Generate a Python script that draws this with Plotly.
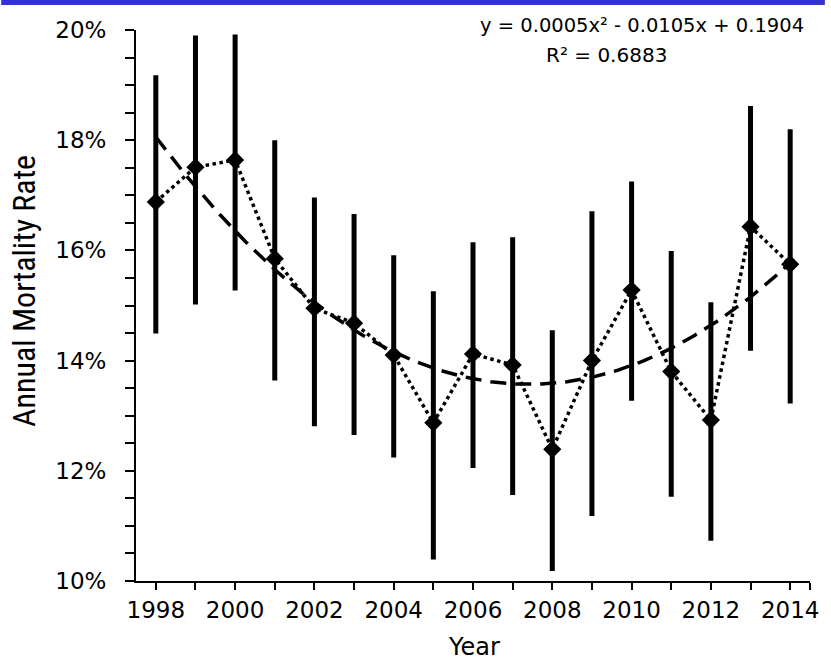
import numpy as np
import plotly.graph_objects as go

years = [1998, 1999, 2000, 2001, 2002, 2003, 2004, 2005, 2006, 2007, 2008,
         2009, 2010, 2011, 2012, 2013, 2014]
rate = [16.88, 17.51, 17.64, 15.85, 14.95, 14.68, 14.10, 12.87, 14.12, 13.92,
        12.39, 14.00, 15.28, 13.80, 12.92, 16.43, 15.75]
upper = [19.18, 19.90, 19.92, 18.00, 16.96, 16.66, 15.91, 15.26, 16.15, 16.24,
         14.55, 16.71, 17.25, 15.99, 15.06, 18.62, 18.20]
lower = [14.49, 15.02, 15.27, 13.64, 12.81, 12.65, 12.24, 10.39, 12.05, 11.56,
         10.18, 11.18, 13.27, 11.53, 10.73, 14.18, 13.22]
eq_text = "y = 0.0005x² - 0.0105x + 0.1904"
r2_text = "R² = 0.6883"

r = np.array(rate) / 100
up = np.array(upper) / 100 - r
dn = r - np.array(lower) / 100

# quadratic trendline (least squares on index 1..n, as the spreadsheet does)
idx = np.arange(1, len(years) + 1)
coef = np.polyfit(idx, r, 2)
xs = np.linspace(1, len(years), 200)
trend_x = years[0] - 1 + xs
trend_y = np.polyval(coef, xs)

fig = go.Figure()
fig.add_trace(go.Scatter(
    x=years, y=r, mode="lines",
    line=dict(color="black", width=3.5, dash="dot"),
    error_y=dict(type="data", symmetric=False, array=up, arrayminus=dn,
                 color="black", thickness=5, width=0),
    showlegend=False, hoverinfo="skip"))
fig.add_trace(go.Scatter(
    x=trend_x, y=trend_y, mode="lines",
    line=dict(color="black", width=3.5, dash="16px,9px"),
    showlegend=False, hoverinfo="skip"))
fig.add_trace(go.Scatter(
    x=years, y=r, mode="markers",
    marker=dict(symbol="diamond", size=14, color="black"),
    showlegend=False, hoverinfo="skip"))

minor_y = [v / 1000 for v in range(100, 201, 5)]
y_text = [f"{round(v*100)}%" if round(v * 1000) % 20 == 0 else "" for v in minor_y]
x_vals = years + [years[-1] + 0.5]
x_text = [str(y) if (y - years[0]) % 2 == 0 else "" for y in years] + [""]

fig.update_layout(
    width=831, height=664,
    margin=dict(l=136, r=15, t=30, b=83),
    paper_bgcolor="white", plot_bgcolor="white",
    font=dict(family="DejaVu Sans", color="black"),
    xaxis=dict(range=[years[0] - 0.5, years[-1] + 0.5], tickvals=x_vals,
               ticktext=x_text, ticks="outside", ticklen=7, tickwidth=2,
               tickcolor="black", showline=True, linecolor="black",
               linewidth=2, showgrid=False, zeroline=False,
               tickfont=dict(size=23, family="DejaVu Sans")),
    yaxis=dict(range=[0.10, 0.20], tickvals=minor_y, ticktext=y_text,
               ticks="outside", ticklen=9, tickwidth=2, tickcolor="black",
               showline=True, linecolor="black", linewidth=2,
               showgrid=False, zeroline=False, ticklabelstandoff=14,
               tickfont=dict(size=23, family="DejaVu Sans")),
    shapes=[dict(type="rect", xref="paper", yref="paper",
                 x0=-136 / 680, x1=(831 - 136) / 680,
                 y0=1 + 25 / 551, y1=1 + 31 / 551,
                 fillcolor="#3333CC", line=dict(width=0))],
    annotations=[
        dict(text=eq_text, xref="paper", yref="paper", x=(812 - 136) / 680,
             y=1 + 5 / 551, xanchor="right", yanchor="middle", showarrow=False,
             font=dict(size=19.5, family="DejaVu Sans")),
        dict(text=r2_text, xref="paper", yref="paper", x=(611 - 136) / 680,
             y=1 - 25 / 551, xanchor="center", yanchor="middle", showarrow=False,
             font=dict(size=20, family="DejaVu Sans")),
        dict(text="Year", xref="paper", yref="paper", x=(477 - 136) / 680,
             y=-(647 - 581) / 551, xanchor="center", yanchor="middle",
             showarrow=False, font=dict(size=24, family="DejaVu Sans")),
        dict(text="Annual Mortality Rate", xref="paper", yref="paper",
             x=(23 - 136) / 680, y=(581 - 291) / 551, textangle=-90,
             xanchor="center", yanchor="middle", showarrow=False,
             font=dict(size=32, family="Liberation Sans Narrow, Roboto Condensed, Liberation Sans")),
    ],
)
fig.write_html("out.html")
